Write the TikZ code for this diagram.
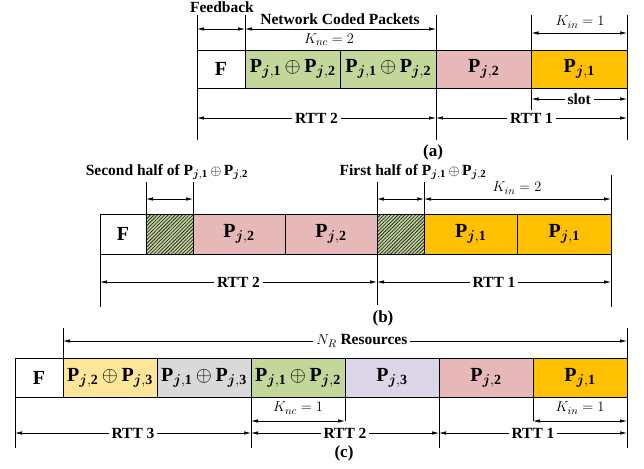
\documentclass[tikz,border=0pt]{standalone}
\usepackage{bm}
\usepackage{fontspec}
\setmainfont{Liberation Serif}
\usetikzlibrary{arrows.meta, positioning, patterns.meta}

\definecolor{ncgreen}{HTML}{C4D79B}
\definecolor{pkpink}{HTML}{E6B8B7}
\definecolor{pkorange}{HTML}{FFC000}
\definecolor{ncyellow}{HTML}{FFE699}
\definecolor{ncgrey}{HTML}{D9D9D9}
\definecolor{pklav}{HTML}{DCD6E8}

\newcommand{\pone}[1]{$\mathbf{P}_{\bm{j},\mathbf{#1}}$}
\newcommand{\pxor}[2]{$\medmuskip=3mu\mathbf{P}_{\bm{j},\mathbf{#1}}\oplus\mathbf{P}_{\bm{j},\mathbf{#2}}$}

\begin{document}
\begin{tikzpicture}[x=1pt, y=-1pt,
	pkt/.style={draw, line width=0.8pt, inner sep=0pt, outer sep=0pt, font=\fontsize{20}{20}\selectfont\bfseries},
	wd/.style={minimum width=#1},
	ht/.style={minimum height=#1},
	hatch/.style={preaction={fill=ncgreen}, pattern={Lines[angle=45, distance=2.5pt, line width=0.8pt]}, pattern color=black!85},
	tick/.style={line width=1pt},
	dim/.style={{Latex[length=7pt, width=3.5pt]}-{Latex[length=7pt, width=3.5pt]}, line width=0.7pt},
	lbl/.style={font=\fontsize{15.5}{15.5}\selectfont\bfseries, inner sep=2pt},
	gap/.style={lbl, fill=white, inner sep=3pt},
	kval/.style={font=\fontsize{15}{15}\selectfont, inner sep=1pt},
	subcap/.style={font=\fontsize{17}{17}\selectfont\bfseries, inner sep=0pt}]
	\useasboundingbox (0,0) rectangle (644,468);

	% (a): network coded packets
	\node[pkt, wd=48, ht=38, anchor=west] (a0) at (197,69) {F};
	\node[pkt, wd=95.5, ht=38, fill=ncgreen, right=0pt of a0] (a1) {\pxor{1}{2}};
	\node[pkt, wd=95.5, ht=38, fill=ncgreen, right=0pt of a1] (a2) {\pxor{1}{2}};
	\node[pkt, wd=95.5, ht=38, fill=pkpink, right=0pt of a2] (a3) {\pone{2}};
	\node[pkt, wd=95.5, ht=38, fill=pkorange, right=0pt of a3] (a4) {\pone{1}};
	\foreach \p/\t/\b in {a0.west/15/140, a1.west/15/50, a3.west/15/140, a4.west/15/110, a4.east/15/140}
		\draw[tick] (\p |- 0,\t) -- (\p |- 0,\b);
	\node[lbl] (fb) at (222,7) {Feedback};
	\draw[dim] (a0.west |- 0,29) -- (a1.west |- 0,29);
	\node[lbl] (ncp) at (340,19) {Network Coded Packets};
	\draw[dim] (a1.west |- 0,29) -- (a3.west |- 0,29);
	\node[kval] (knca) at (329,40) {$K_{nc}=2$};
	\node[kval] (kina) at (580,22) {$K_{in}=1$};
	\draw[dim] (a4.west |- 0,33) -- (a4.east |- 0,33);
	\draw[dim] (a4.west |- 0,99) -- node[gap] (slot) {slot} (a4.east |- 0,99);
	\draw[dim] (a0.west |- 0,118) -- node[gap] (rtt2a) {RTT 2} (a3.west |- 0,118);
	\draw[dim] (a3.west |- 0,118) -- node[gap] (rtt1a) {RTT 1} (a4.east |- 0,118);
	\node[subcap] (capa) at (433,152) {(a)};

	% (b): split coded packet
	\node[pkt, wd=46, ht=40, anchor=west] (b0) at (100,234) {F};
	\node[pkt, wd=47, ht=40, hatch, right=0pt of b0] (b1) {};
	\node[pkt, wd=92, ht=40, fill=pkpink, right=0pt of b1] (b2) {\pone{2}};
	\node[pkt, wd=92, ht=40, fill=pkpink, right=0pt of b2] (b3) {\pone{2}};
	\node[pkt, wd=47, ht=40, hatch, right=0pt of b3] (b4) {};
	\node[pkt, wd=93.5, ht=40, fill=pkorange, right=0pt of b4] (b5) {\pone{1}};
	\node[pkt, wd=93.5, ht=40, fill=pkorange, right=0pt of b5] (b6) {\pone{1}};
	\foreach \p/\t/\b in {b1.west/182/214, b2.west/182/214, b4.west/182/305, b5.west/182/214, b6.east/175/307, b0.west/234/307}
		\draw[tick] (\p |- 0,\t) -- (\p |- 0,\b);
	\node[lbl] (secb) at (167,172) {Second half of \pxor{1}{2}};
	\node[lbl] (firb) at (413,172) {First half of \pxor{1}{2}};
	\draw[dim] (b1.west |- 0,199) -- (b2.west |- 0,199);
	\draw[dim] (b4.west |- 0,199) -- (b5.west |- 0,199);
	\draw[dim] (b5.west |- 0,199) -- (b6.east |- 0,199);
	\node[kval] (kinb) at (517,188) {$K_{in}=2$};
	\draw[dim] (b0.west |- 0,282) -- node[gap] (rtt2b) {RTT 2} (b4.west |- 0,282);
	\draw[dim] (b4.west |- 0,282) -- node[gap] (rtt1b) {RTT 1} (b6.east |- 0,282);
	\node[subcap] (capb) at (383,318) {(b)};

	% (c): N_R resources
	\node[pkt, wd=48, ht=39, anchor=west] (c0) at (15,377.5) {F};
	\node[pkt, wd=94, ht=39, fill=ncyellow, right=0pt of c0] (c1) {\pxor{2}{3}};
	\node[pkt, wd=94, ht=39, fill=ncgrey, right=0pt of c1] (c2) {\pxor{1}{3}};
	\node[pkt, wd=94, ht=39, fill=ncgreen, right=0pt of c2] (c3) {\pxor{1}{2}};
	\node[pkt, wd=94, ht=39, fill=pklav, right=0pt of c3] (c4) {\pone{3}};
	\node[pkt, wd=94, ht=39, fill=pkpink, right=0pt of c4] (c5) {\pone{2}};
	\node[pkt, wd=94, ht=39, fill=pkorange, right=0pt of c5] (c6) {\pone{1}};
	\foreach \p/\t/\b in {c1.west/328/358, c6.east/328/448, c0.west/377/448, c3.west/397/448, c4.west/397/421, c5.west/397/448, c6.west/397/421}
		\draw[tick] (\p |- 0,\t) -- (\p |- 0,\b);
	\draw[dim] (c1.west |- 0,341) -- node[gap, pos=0.53] (nres) {$N_R$ Resources} (c6.east |- 0,341);
	\node[kval] (kncc) at (298,408) {$K_{nc}=1$};
	\draw[dim] (c3.west |- 0,421) -- (c4.west |- 0,421);
	\node[kval] (kinc) at (580,408) {$K_{in}=1$};
	\draw[dim] (c6.west |- 0,421) -- (c6.east |- 0,421);
	\draw[dim] (c0.west |- 0,433) -- node[gap] (rtt3c) {RTT 3} (c3.west |- 0,433);
	\draw[dim] (c3.west |- 0,433) -- node[gap] (rtt2c) {RTT 2} (c5.west |- 0,433);
	\draw[dim] (c5.west |- 0,433) -- node[gap] (rtt1c) {RTT 1} (c6.east |- 0,433);
	\node[subcap] (capc) at (344,453) {(c)};
\end{tikzpicture}
\end{document}
